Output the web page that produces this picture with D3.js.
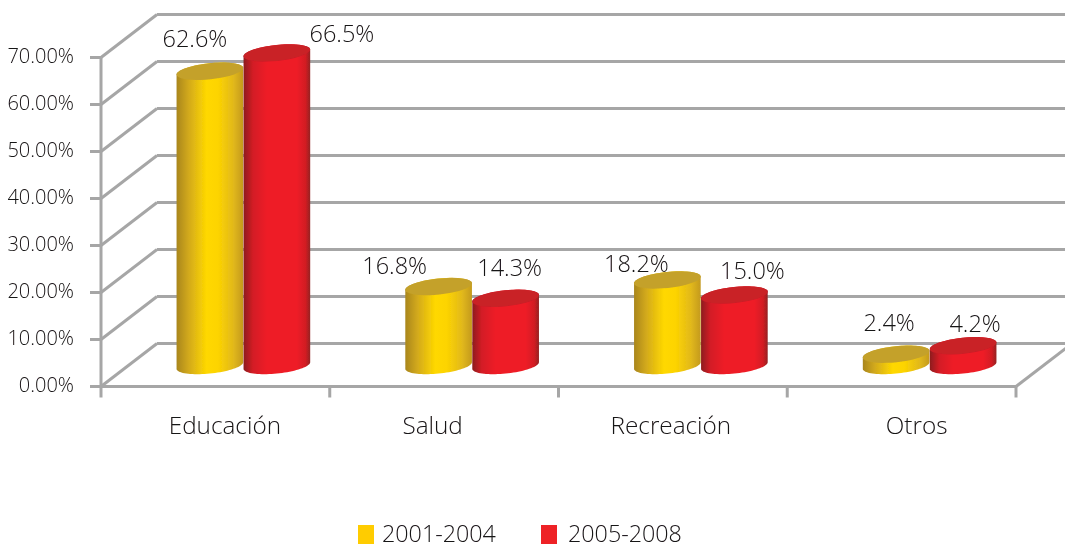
<!DOCTYPE html>
<html><head><meta charset="utf-8">
<style>html,body{margin:0;padding:0;background:#fff;overflow:hidden}svg{display:block}
text{font-family:"Open Sans","Noto Sans",sans-serif;font-weight:300;fill:#161314}</style>
<script src="https://cdnjs.cloudflare.com/ajax/libs/d3/7.8.5/d3.min.js"></script>
</head><body><div id="chart"></div>
<script>
const categories = ["Educación","Salud","Recreación","Otros"];
const seriesNames = ["2001-2004","2005-2008"];
const values2001 = [62.6,16.8,18.2,2.4];
const values2005 = [66.5,14.3,15.0,4.2];
const yTicks = [0,10,20,30,40,50,60,70];
const labelText2001 = ["62.6%","16.8%","18.2%","2.4%"];
const labelText2005 = ["66.5%","14.3%","15.0%","4.2%"];

const W=1065,H=544;
const DX=56,DY=-43;
const y=d3.scaleLinear().domain([0,70]).range([386.5,57.5]);
const x=d3.scaleBand().domain(categories).range([101,1016]);
const x1=d3.scaleBand().domain(seriesNames).range([0,134]);
const color=d3.scaleOrdinal().domain(seriesNames).range(["#ffcc00","#ee2226"]);

const svg=d3.select("#chart").append("svg").attr("width",W).attr("height",H);
const defs=svg.append("defs");
function grad(id,stops){
  const g=defs.append("linearGradient").attr("id",id).attr("x1",0).attr("x2",1).attr("y1",0).attr("y2",0);
  stops.forEach(s=>g.append("stop").attr("offset",s[0]).attr("stop-color",s[1]));
}
grad("g0",[[0,"#a9861f"],[.18,"#d2a91c"],[.45,"#ffd800"],[.62,"#fdd400"],[.85,"#e2b91a"],[1,"#c49a20"]]);
grad("g1",[[0,"#8d1c1e"],[.14,"#d31f25"],[.35,"#ee1f26"],[.8,"#ee1f26"],[.93,"#d21f24"],[1,"#94201f"]]);
defs.append("filter").attr("id","soft").append("feGaussianBlur").attr("stdDeviation",.7);
defs.append("filter").attr("id","softT").append("feGaussianBlur").attr("stdDeviation",.25);

// walls
const wall=svg.append("g").attr("stroke","#a6a6a6").attr("stroke-width",3).attr("fill","none").attr("filter","url(#soft)");
yTicks.forEach(t=>{
  wall.append("line").attr("x1",x.range()[0]).attr("y1",y(t)).attr("x2",x.range()[0]+DX).attr("y2",y(t)+DY);
  wall.append("line").attr("x1",x.range()[0]+DX).attr("y1",y(t)+DY).attr("x2",x.range()[1]+DX).attr("y2",y(t)+DY);
  wall.append("line").attr("x1",x.range()[0]-11).attr("y1",y(t)).attr("x2",x.range()[0]).attr("y2",y(t));
});
wall.append("line").attr("x1",x.range()[0]).attr("y1",y(70)).attr("x2",x.range()[0]).attr("y2",y(0));
wall.append("line").attr("x1",x.range()[0]).attr("y1",y(0)).attr("x2",x.range()[1]).attr("y2",y(0));
wall.append("line").attr("x1",x.range()[1]).attr("y1",y(0)).attr("x2",x.range()[1]+DX).attr("y2",y(0)+DY);
[...categories.map(c=>x(c)),x.range()[1]].forEach(v=>{
  wall.append("line").attr("x1",v).attr("y1",y(0)).attr("x2",v).attr("y2",y(0)+11);
});

// y axis labels
yTicks.forEach(t=>{
  svg.append("text").attr("x",74).attr("y",y(t)+5).attr("text-anchor","end").attr("font-size",20)
    .attr("filter","url(#softT)").text(d3.format(".2f")(t)+"%");
});
const catNudge=[9.5,-11.5,-2,15];
categories.forEach((c,i)=>{
  svg.append("text").attr("x",x(c)+x.bandwidth()/2+catNudge[i]).attr("y",434).attr("text-anchor","middle").attr("font-size",24.3)
    .attr("filter","url(#softT)").text(c);
});

// cylinders
const RY=8,PHI=-6*Math.PI/180;
const TH0=Math.atan(-RY/33*Math.tan(PHI));
const lineGen=d3.line();
function pt(cx,cy,rx,th){
  return [cx+rx*Math.cos(th)*Math.cos(PHI)-RY*Math.sin(th)*Math.sin(PHI),
          cy+rx*Math.cos(th)*Math.sin(PHI)+RY*Math.sin(th)*Math.cos(PHI)];
}
const angles=d3.range(0,41).map(k=>k/40);
function cyl(cx,yTop,yBase,rx){
  const lower=angles.map(k=>pt(cx,yBase,rx,TH0+k*Math.PI));
  const upper=angles.map(k=>pt(cx,yTop,rx,TH0+Math.PI+k*Math.PI));
  const topFull=angles.map(k=>pt(cx,yTop,rx,k*2*Math.PI));
  return {body:lineGen([...lower,...upper])+"Z", top:lineGen(topFull)+"Z"};
}
const series=[
  {name:seriesNames[0],vals:values2001,labels:labelText2001,g:"url(#g0)",top:"#c4a12b",
   off:[[-15,-24],[-44,-13],[-31,-8],[-7,-23]]},
  {name:seriesNames[1],vals:values2005,labels:labelText2005,g:"url(#g1)",top:"#c92027",
   off:[[65,-11],[4,-22],[18,-16],[12,-14]]}
];
const bars=svg.append("g").attr("filter","url(#soft)");
const labels=svg.append("g");
categories.forEach((c,i)=>{
  series.forEach(s=>{
    const rx=x1.bandwidth()/2;
    const cx=x(c)+x.bandwidth()/2+DX/2-67+x1(s.name)+x1.bandwidth()/2;
    const base=y(0)+DY/2+.5, top=y(s.vals[i])+DY/2+.5;
    const p=cyl(cx,top,base,rx);
    bars.append("path").attr("d",p.body).attr("fill",s.g);
    bars.append("path").attr("d",p.top).attr("fill",s.top);
    labels.append("text").attr("x",cx+s.off[i][0]).attr("y",top+s.off[i][1]).attr("text-anchor","middle")
      .attr("font-size",23.5).attr("filter","url(#softT)").text(s.labels[i]);
  });
});

// legend
const leg=svg.append("g");
[[358,382],[541,568]].forEach((p,i)=>{
  leg.append("rect").attr("x",p[0]).attr("y",525).attr("width",16).attr("height",19).attr("fill",color(seriesNames[i]));
  leg.append("text").attr("x",p[1]).attr("y",542).attr("font-size",23.3).attr("filter","url(#softT)").text(seriesNames[i]);
});
</script></body></html>
